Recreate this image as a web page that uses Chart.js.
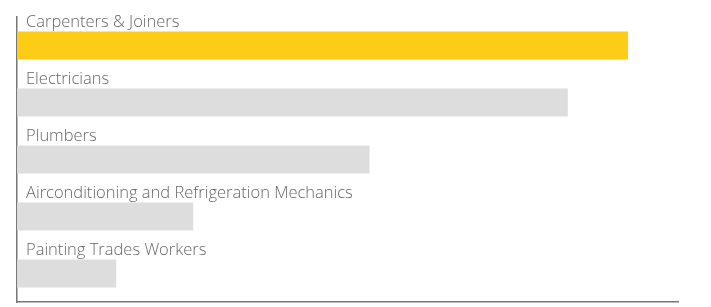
<!DOCTYPE html>
<html><head><meta charset="utf-8">
<script src="https://cdn.jsdelivr.net/npm/chart.js@4/dist/chart.umd.min.js"></script>
<style>html,body{margin:0;padding:0;background:#fff}#wrap{width:711px;height:307px}</style>
</head><body><div id="wrap"><canvas id="c"></canvas></div>
<script>
const categories = ["Carpenters & Joiners","Electricians","Plumbers","Airconditioning and Refrigeration Mechanics","Painting Trades Workers"];
const values = [610, 550, 352, 176, 99];
const barColors = ["#FDCC16","#DDDDDD","#DDDDDD","#DDDDDD","#DDDDDD"];
const xMax = 660;

const labelPlugin = {
  id: 'barLabels',
  afterDatasetsDraw(chart) {
    const ctx = chart.ctx;
    const meta = chart.getDatasetMeta(0);
    ctx.save();
    ctx.fillStyle = '#666666';
    ctx.font = '300 16.5px "Open Sans"';
    ctx.textBaseline = 'alphabetic';
    ctx.textAlign = 'left';
    meta.data.forEach((bar, i) => {
      const top = bar.y - bar.height / 2;
      ctx.fillText(chart.data.labels[i], chart.chartArea.left + 9, top - 5);
    });
    ctx.restore();
  }
};

new Chart(document.getElementById('c'), {
  type: 'bar',
  data: { labels: categories, datasets: [{ data: values, backgroundColor: barColors, borderWidth: 0, categoryPercentage: 1, barPercentage: 0.49 }] },
  options: {
    indexAxis: 'y', responsive: true, maintainAspectRatio: false, animation: false,
    layout: { padding: { left: 17, top: 17, right: 33, bottom: 5 } },
    plugins: { legend: { display: false }, tooltip: { enabled: false } },
    scales: {
      x: { min: 0, max: xMax, grid: { display: false, drawTicks: false }, ticks: { display: false }, border: { display: true, color: '#777777', width: 1.5 } },
      y: { grid: { display: false, drawTicks: false }, ticks: { display: false }, border: { display: true, color: '#777777', width: 1.5 } }
    }
  },
  plugins: [labelPlugin]
});
</script></body></html>
